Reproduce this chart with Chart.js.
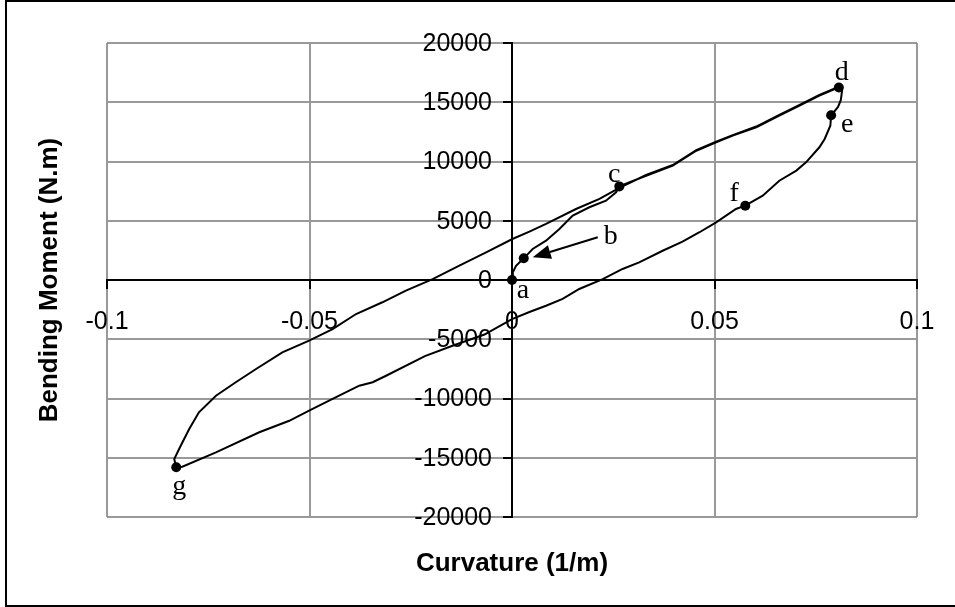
<!DOCTYPE html>
<html>
<head>
<meta charset="utf-8">
<script src="https://cdn.jsdelivr.net/npm/chart.js@4"></script>
<style>
  html, body { margin: 0; padding: 0; background: #fff; }
  canvas { display: block; }
</style>
</head>
<body>
<canvas id="chart" width="955" height="607"></canvas>
<script>
// Axis ticks
const xTicks = [-0.1, -0.05, 0, 0.05, 0.1];
const xTickLabels = ['-0.1', '-0.05', '0', '0.05', '0.1'];
const yTicks = [-20000, -15000, -10000, -5000, 0, 5000, 10000, 15000, 20000];
const yTickLabels = ['-20000', '-15000', '-10000', '-5000', '0', '5000', '10000', '15000', '20000'];

// Moment-curvature loop (1/m, N.m), in load order a -> b -> c -> d -> e -> f -> g -> back up to d
const curvature = [
  0, 0.0002, 0.0010, 0.0029, 0.0051, 0.0084, 0.0117, 0.0150, 0.0191, 0.0232, 0.0257, 0.0265,
  0.0331, 0.0397, 0.0455, 0.0504, 0.0545, 0.0603, 0.0660, 0.0710, 0.0759, 0.0807,
  0.0815, 0.0812, 0.0805, 0.0788,
  0.0786, 0.0772, 0.0759, 0.0726, 0.0702, 0.0660, 0.0619, 0.0576,
  0.0553, 0.0504, 0.0463, 0.0421, 0.0372, 0.0314, 0.0273, 0.0224, 0.0166, 0.0125, 0.0084, 0.0043, 0.0000,
  -0.0068, -0.0147, -0.0215, -0.0311, -0.0344, -0.0377, -0.0402, -0.0443, -0.0501, -0.0550, -0.0624, -0.0731, -0.0814, -0.0829,
  -0.0834, -0.0818, -0.0797, -0.0773, -0.0731, -0.0682, -0.0632, -0.0567, -0.0501, -0.0443, -0.0385, -0.0320, -0.0262, -0.0196,
  -0.0130, -0.0064, 0.0001, 0.0043, 0.0084, 0.0158, 0.0216, 0.0265,
  0.0331, 0.0397, 0.0455, 0.0504, 0.0545, 0.0603, 0.0660, 0.0710, 0.0759, 0.0800
];
const moment = [
  0, 650, 1200, 1830, 2620, 3320, 4300, 5430, 6140, 6690, 7400, 7900,
  8800, 9650, 10910, 11620, 12180, 12890, 13870, 14710, 15560, 16250,
  16000, 15200, 14600, 13900,
  13020, 11900, 11200, 9930, 9230, 8380, 7120, 6270,
  5990, 4870, 4030, 3230, 2470, 1490, 930, 80, -760, -1600, -2170, -2700, -3300,
  -4600, -5550, -6420, -8080, -8630, -8920, -9340, -10040, -11030, -11880, -12850, -14540, -15760, -15800,
  -15110, -13990, -12580, -11170, -9770, -8630, -7510, -6100, -5120, -4140, -2870, -1880, -900, 80,
  1210, 2340, 3460, 4080, 4730, 5990, 6840, 7780,
  8860, 9700, 10960, 11680, 12230, 12950, 13930, 14770, 15610, 16200
];

// Marked states along the loop
const pointNames = ['a', 'b', 'c', 'd', 'e', 'f', 'g'];
const pointCurvature = [0, 0.0029, 0.0265, 0.0807, 0.0788, 0.0576, -0.0829];
const pointMoment = [0, 1830, 7900, 16250, 13900, 6270, -15800];

// Letter placement relative to each marker (px): [dx, dy of baseline]
const letterOffsets = [[11, 18], [87, -14], [-5, -4], [3, -7], [16, 17], [-11, -5], [3, 27]];

const SANS = '"Liberation Sans", Arial, sans-serif';
const SERIF = '"Liberation Serif", "Times New Roman", serif';

const annotations = {
  id: 'annotations',
  beforeDraw(chart) {
    const ctx = chart.ctx;
    ctx.save();
    ctx.strokeStyle = '#000';
    ctx.lineWidth = 2;
    ctx.strokeRect(6, 1, 1000, 605);
    ctx.restore();
  },
  beforeDatasetsDraw(chart) {
    // value labels of the moment axis, right-aligned beside the vertical axis line
    const ctx = chart.ctx;
    const xs = chart.scales.x, ys = chart.scales.y;
    const axisX = xs.getPixelForValue(0);
    ctx.save();
    ctx.fillStyle = '#000';
    ctx.font = '25px ' + SANS;
    ctx.textAlign = 'right';
    ctx.textBaseline = 'middle';
    yTicks.forEach((v, i) => {
      ctx.fillText(yTickLabels[i], axisX - 20, ys.getPixelForValue(v) + 1);
    });
    ctx.restore();
  },
  afterDraw(chart) {
    const ctx = chart.ctx;
    const xs = chart.scales.x, ys = chart.scales.y;
    ctx.save();
    ctx.fillStyle = '#000';
    ctx.strokeStyle = '#000';

    // point letters
    ctx.font = '28px ' + SERIF;
    ctx.textAlign = 'center';
    ctx.textBaseline = 'alphabetic';
    pointNames.forEach((name, i) => {
      const px = xs.getPixelForValue(pointCurvature[i]);
      const py = ys.getPixelForValue(pointMoment[i]);
      ctx.fillText(name, px + letterOffsets[i][0], py + letterOffsets[i][1]);
    });

    // arrow pointing at b
    const bx = xs.getPixelForValue(pointCurvature[1]);
    const by = ys.getPixelForValue(pointMoment[1]);
    const tipX = bx + 9, tipY = by - 1;
    const tailX = bx + 74, tailY = by - 21;
    const ang = Math.atan2(tipY - tailY, tipX - tailX);
    const headLen = 18, headHalf = 7;
    const baseX = tipX - headLen * Math.cos(ang), baseY = tipY - headLen * Math.sin(ang);
    ctx.lineWidth = 2;
    ctx.beginPath();
    ctx.moveTo(tailX, tailY);
    ctx.lineTo(baseX, baseY);
    ctx.stroke();
    ctx.beginPath();
    ctx.moveTo(tipX, tipY);
    ctx.lineTo(baseX + headHalf * Math.sin(ang), baseY - headHalf * Math.cos(ang));
    ctx.lineTo(baseX - headHalf * Math.sin(ang), baseY + headHalf * Math.cos(ang));
    ctx.closePath();
    ctx.fill();

    // axis titles
    ctx.font = 'bold 26px ' + SANS;
    ctx.textAlign = 'center';
    ctx.textBaseline = 'alphabetic';
    const ca = chart.chartArea;
    ctx.fillText('Curvature (1/m)', (ca.left + ca.right) / 2, 571);
    ctx.translate(57, (ca.top + ca.bottom) / 2);
    ctx.rotate(-Math.PI / 2);
    ctx.fillText('Bending Moment (N.m)', 0, 0);
    ctx.restore();
  }
};

new Chart(document.getElementById('chart'), {
  type: 'scatter',
  data: {
    datasets: [
      {
        data: curvature.map((x, i) => ({ x, y: moment[i] })),
        showLine: true,
        borderColor: '#000',
        borderWidth: 2,
        pointRadius: 0,
        tension: 0,
        fill: false
      },
      {
        data: pointCurvature.map((x, i) => ({ x, y: pointMoment[i] })),
        showLine: false,
        pointRadius: 5,
        pointBackgroundColor: '#000',
        pointBorderWidth: 0
      }
    ]
  },
  options: {
    responsive: false,
    animation: false,
    layout: { padding: { left: 107, top: 43, right: 38, bottom: 90 } },
    plugins: { legend: { display: false }, tooltip: { enabled: false } },
    scales: {
      x: {
        type: 'linear',
        min: -0.1,
        max: 0.1,
        position: { y: 0 },
        afterBuildTicks: s => { s.ticks = xTicks.map(v => ({ value: v })); },
        ticks: {
          callback: (v, i) => xTickLabels[i],
          font: { family: SANS, size: 25 },
          color: '#000',
          padding: 19,
          maxRotation: 0,
          autoSkip: false
        },
        grid: { color: '#999', lineWidth: 2, tickColor: '#000', tickWidth: 2, tickLength: 8 },
        border: { color: '#000', width: 2 }
      },
      y: {
        type: 'linear',
        min: -20000,
        max: 20000,
        position: { x: 0 },
        afterBuildTicks: s => { s.ticks = yTicks.map(v => ({ value: v })); },
        ticks: { display: false },
        grid: { color: '#999', lineWidth: 2, tickColor: '#000', tickWidth: 2, tickLength: 8 },
        border: { color: '#000', width: 2 }
      }
    }
  },
  plugins: [annotations]
});
</script>
</body>
</html>
